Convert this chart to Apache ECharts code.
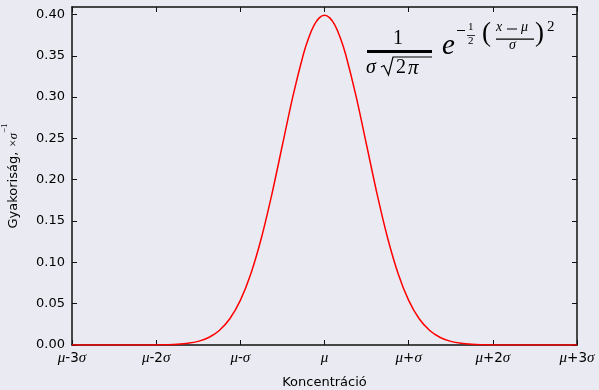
<!DOCTYPE html>
<html>
<head>
<meta charset="utf-8">
<script src="https://cdn.jsdelivr.net/npm/echarts@6/dist/echarts.min.js"></script>
<style>
  html, body { margin: 0; padding: 0; background: #eaeaf2; }
  #chart { width: 599px; height: 390px; }
</style>
</head>
<body>
<div id="chart"></div>
<script>
// Normal density curve, x in plot units (ticks every 2 units = one sigma step)
const xValues = [-6, -5.5, -5, -4.75, -4.5, -4.25, -4, -3.75, -3.5, -3.25, -3, -2.75, -2.5, -2.25, -2, -1.75, -1.5, -1.25, -1, -0.75, -0.5, -0.375, -0.25, -0.125,
  0, 0.125, 0.25, 0.375, 0.5, 0.75, 1, 1.25, 1.5, 1.75, 2, 2.25, 2.5, 2.75, 3, 3.25, 3.5, 3.75, 4, 4.25, 4.5, 4.75, 5, 5.5, 6];
const density = [0, 0, 0, 0, 0, 0, 0.0001, 0.0004, 0.0009, 0.0020, 0.0044, 0.0091, 0.0175, 0.0317, 0.0540, 0.0863, 0.1295, 0.1826, 0.2420, 0.3011, 0.3521, 0.3719, 0.3867, 0.3958,
  0.3989, 0.3958, 0.3867, 0.3719, 0.3521, 0.3011, 0.2420, 0.1826, 0.1295, 0.0863, 0.0540, 0.0317, 0.0175, 0.0091, 0.0044, 0.0020, 0.0009, 0.0004, 0.0001, 0, 0, 0, 0, 0, 0];

const xTicks = [-6, -4, -2, 0, 2, 4, 6];
const xTickLabels = ['μ-3σ', 'μ-2σ', 'μ-σ', 'μ', 'μ+σ', 'μ+2σ', 'μ+3σ'];
const yTicks = [0, 0.05, 0.10, 0.15, 0.20, 0.25, 0.30, 0.35, 0.40];

const FRAME = '#111111';
const SERIF = '"Liberation Serif", "DejaVu Serif", serif';
const SANS = '"DejaVu Sans", sans-serif';

function mathLabel(s) {
  let out = '';
  for (const ch of s) {
    if (ch === 'μ' || ch === 'σ') out += '{m|' + ch + '}';
    else out += '{n|' + ch + '}';
  }
  return out;
}

const chart = echarts.init(document.getElementById('chart'), null, { renderer: 'canvas' });

const tickStyle = { show: true, inside: true, length: 5, lineStyle: { color: FRAME, width: 1 } };
const lineStyleAxis = { show: true, onZero: false, lineStyle: { color: FRAME, width: 1.5 } };

const option = {
  backgroundColor: '#eaeaf2',
  animation: false,
  grid: { left: 72, right: 22, top: 7, bottom: 45, containLabel: false, outerBoundsMode: 'none' },
  xAxis: [
    {
      type: 'value', min: -6, max: 6, interval: 2, position: 'bottom',
      axisLine: lineStyleAxis,
      axisTick: Object.assign({}, tickStyle, { customValues: xTicks }),
      splitLine: { show: false },
      axisLabel: {
        show: true, margin: 6, customValues: xTicks, hideOverlap: false,
        formatter: v => mathLabel(xTickLabels[xTicks.indexOf(v)] || ''),
        rich: {
          m: { fontFamily: SERIF, fontStyle: 'italic', fontSize: 15, color: '#000' },
          n: { fontFamily: SANS, fontSize: 13.5, color: '#000' }
        }
      },
      name: 'Koncentráció', nameLocation: 'middle', nameGap: 31,
      nameTextStyle: { fontFamily: SANS, fontSize: 13, color: '#000' }
    },
    {
      type: 'value', min: -6, max: 6, interval: 2, position: 'top',
      axisLine: lineStyleAxis,
      axisTick: Object.assign({}, tickStyle, { customValues: xTicks }),
      axisLabel: { show: false }, splitLine: { show: false }
    }
  ],
  yAxis: [
    {
      type: 'value', min: 0, max: 0.409, position: 'left',
      axisLine: lineStyleAxis,
      axisTick: Object.assign({}, tickStyle, { customValues: yTicks }),
      splitLine: { show: false },
      axisLabel: {
        show: true, margin: 7, customValues: yTicks,
        formatter: v => v.toFixed(2),
        fontFamily: SANS, fontSize: 13, color: '#000'
      },
      name: '{t|Gyakoriság, }{s|×σ}{p|−1}', nameLocation: 'middle', nameGap: 52, nameRotate: 90,
      nameTextStyle: {
        rich: {
          t: { fontFamily: SANS, fontSize: 13, color: '#000', lineHeight: 20, verticalAlign: 'bottom' },
          s: { fontFamily: SERIF, fontStyle: 'italic', fontSize: 12.5, color: '#000', lineHeight: 20, verticalAlign: 'bottom' },
          p: { fontFamily: SERIF, fontSize: 9, color: '#000', lineHeight: 20, verticalAlign: 'top' }
        }
      }
    },
    {
      type: 'value', min: 0, max: 0.409, position: 'right',
      axisLine: lineStyleAxis,
      axisTick: Object.assign({}, tickStyle, { customValues: yTicks }),
      axisLabel: { show: false }, splitLine: { show: false }
    }
  ],
  series: [
    {
      type: 'line',
      data: xValues.map((x, i) => [x, density[i]]),
      smooth: 0.3,
      showSymbol: false,
      lineStyle: { color: '#ff0000', width: 1.5 },
      z: 1
    }
  ],
  graphic: [
    // 1 / (σ√2π)
    { type: 'text', left: 393, top: 29, style: { text: '1', font: '20px ' + SERIF, fill: '#000' } },
    { type: 'rect', shape: { x: 367, y: 50, width: 65, height: 3 }, style: { fill: '#000' } },
    { type: 'text', left: 366, top: 58, style: { text: 'σ', font: 'italic 20px ' + SERIF, fill: '#000' } },
    { type: 'polyline', shape: { points: [[381, 67], [384, 65.5], [388.5, 75], [393, 57], [432, 57]] },
      style: { stroke: '#000', lineWidth: 1.2, fill: null } },
    { type: 'text', left: 396, top: 58, style: { text: '2', font: '20px ' + SERIF, fill: '#000' } },
    { type: 'text', left: 408, top: 58, style: { text: 'π', font: 'italic 21px ' + SERIF, fill: '#000' } },
    // e^{-1/2((x-μ)/σ)^2}
    { type: 'text', left: 442, top: 32, style: { text: 'e', font: 'italic 29px ' + SERIF, fill: '#000' } },
    { type: 'rect', shape: { x: 457, y: 30, width: 8, height: 1 }, style: { fill: '#000' } },
    { type: 'text', left: 468, top: 22, style: { text: '1', font: '11px ' + SERIF, fill: '#000' } },
    { type: 'rect', shape: { x: 467, y: 35, width: 8, height: 0.8 }, style: { fill: '#000' } },
    { type: 'text', left: 468, top: 36, style: { text: '2', font: '11px ' + SERIF, fill: '#000' } },
    { type: 'text', left: 482, top: 20, style: { text: '(', font: '27px ' + SERIF, fill: '#000' } },
    { type: 'text', left: 496, top: 20, style: { text: 'x', font: 'italic 14px ' + SERIF, fill: '#000' } },
    { type: 'rect', shape: { x: 507, y: 28.5, width: 10, height: 1 }, style: { fill: '#000' } },
    { type: 'text', left: 521, top: 20, style: { text: 'μ', font: 'italic 14px ' + SERIF, fill: '#000' } },
    { type: 'rect', shape: { x: 496, y: 38.5, width: 38, height: 1.2 }, style: { fill: '#000' } },
    { type: 'text', left: 509, top: 38, style: { text: 'σ', font: 'italic 14px ' + SERIF, fill: '#000' } },
    { type: 'text', left: 535, top: 20, style: { text: ')', font: '27px ' + SERIF, fill: '#000' } },
    { type: 'text', left: 547, top: 20, style: { text: '2', font: '15px ' + SERIF, fill: '#000' } }
  ]
};

chart.setOption(option);
</script>
</body>
</html>
